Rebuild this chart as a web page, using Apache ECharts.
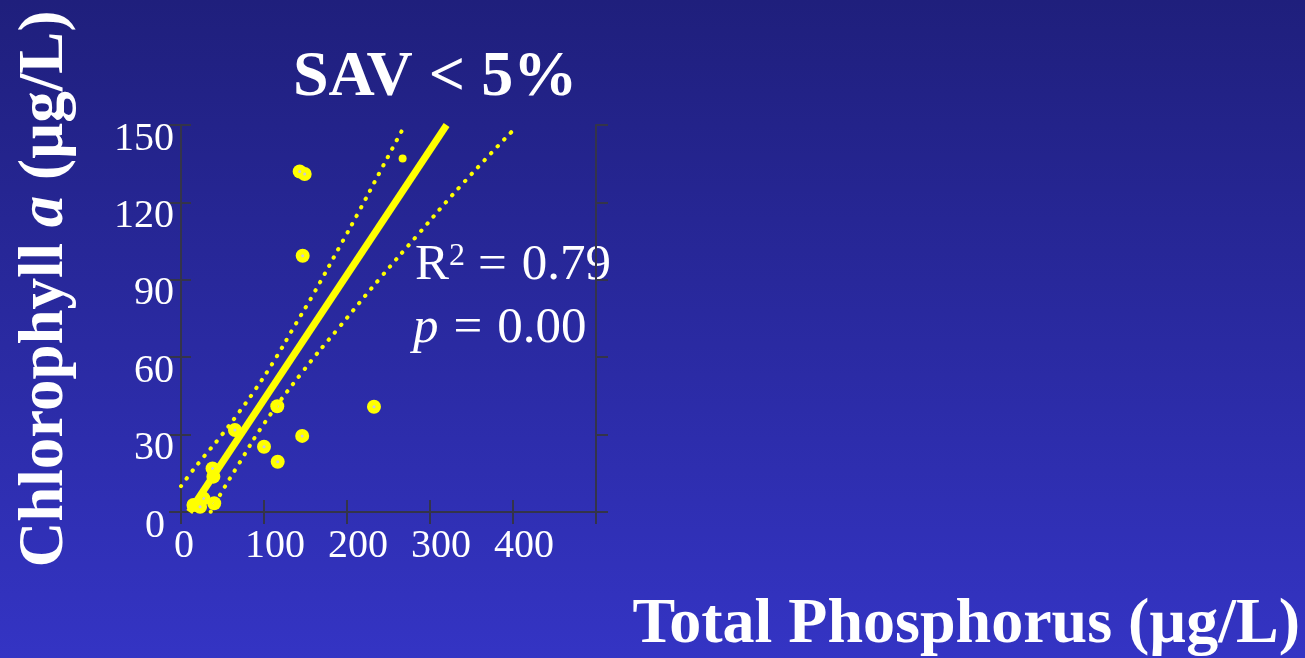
<!DOCTYPE html>
<html>
<head>
<meta charset="utf-8">
<script src="https://cdn.jsdelivr.net/npm/echarts@6/dist/echarts.min.js"></script>
<style>
html,body{margin:0;padding:0;}
#chart{width:1305px;height:658px;}
</style>
</head>
<body>
<div id="chart"></div>
<script>
// ---- data ----
var xTicks = [0, 100, 200, 300, 400];
var yTicks = [0, 30, 60, 90, 120, 150];
var points = [
  [15, 2.7], [23, 2], [27, 5.3], [40, 3.4], [38, 16.9], [39, 13.7],
  [65, 31.8], [100, 25.3], [116, 41], [116.5, 19.5], [146, 29.5],
  [232.5, 40.8], [146.6, 99.3], [143, 132], [149, 131]
];
var partialPoints = [[267, 137]];
var fitLine = [[10, 0], [320, 150]];
var upperBand = [
  [0, 10], [12.9, 15.6], [26.9, 21.2], [49, 29.8], [69, 38.3], [89.2, 47.3],
  [113.3, 59.2], [136.1, 71.7], [159.4, 84.4], [191.6, 103.1], [213.6, 116],
  [239.8, 131.9], [266.6, 148.1]
];
var lowerBand = [
  [35.8, 0.1], [47, 6.6], [70.2, 18.9], [100.4, 34.4], [147.3, 54.7],
  [189.5, 71.2], [239.8, 90.6], [284, 107], [336.1, 126.1], [398.4, 147.4]
];
var titleText = 'SAV < 5%';
var xName = 'Total Phosphorus (µg/L)';
var r2Text = '0.79';
var pText = '0.00';

var SERIF = '"Liberation Serif", "Times New Roman", serif';
var FRAME = '#34344a';
var YEL = '#ffff00';

var chart = echarts.init(document.getElementById('chart'));

var frameLine = {show: true, lineStyle: {color: FRAME, width: 2}};

var option = {
  backgroundColor: {
    type: 'linear', x: 0, y: 0, x2: 0, y2: 1,
    colorStops: [{offset: 0, color: '#1f1f7c'}, {offset: 1, color: '#3434c4'}]
  },
  animation: false,
  grid: {left: 181, top: 125, width: 415, height: 387},
  xAxis: [{
    type: 'value', position: 'bottom', min: 0, max: 500, interval: 100,
    axisLine: frameLine,
    axisTick: {show: true, inside: true, length: 12, lineStyle: {color: FRAME, width: 2}},
    splitLine: {show: false},
    axisLabel: {
      show: true, margin: 14, verticalAlign: 'top', showMaxLabel: false,
      formatter: function (v) {
        if (xTicks.indexOf(v) < 0) return '';
        return v === 0 ? '{z|0}' : '{n|' + v + '}';
      },
      rich: {
        n: {fontFamily: SERIF, fontSize: 40, color: '#ffffff', padding: [0, 0, 0, 22]},
        z: {fontFamily: SERIF, fontSize: 40, color: '#ffffff', padding: [0, 0, 0, 6]}
      }
    }
  }, {
    type: 'value', position: 'top', min: 0, max: 500, interval: 100,
    axisLine: frameLine,
    axisTick: {show: true, inside: true, length: 12, lineStyle: {color: FRAME, width: 2}},
    splitLine: {show: false}, axisLabel: {show: false}
  }],
  yAxis: [{
    type: 'value', position: 'left', min: 0, max: 150, interval: 30,
    axisLine: frameLine,
    axisTick: {show: true, inside: true, length: 10, lineStyle: {color: FRAME, width: 2}},
    splitLine: {show: false},
    axisLabel: {
      show: true, margin: 7,
      formatter: function (v) {
        if (yTicks.indexOf(v) < 0) return '';
        return v === 0 ? '{z|0}' : '{n|' + v + '}';
      },
      rich: {
        n: {fontFamily: SERIF, fontSize: 40, color: '#ffffff', padding: [28, 0, 0, 0]},
        z: {fontFamily: SERIF, fontSize: 40, color: '#ffffff', padding: [28, 9, 0, 0]}
      }
    }
  }, {
    type: 'value', position: 'right', min: 0, max: 150, interval: 30,
    axisLine: frameLine,
    axisTick: {show: true, inside: true, length: 12, lineStyle: {color: FRAME, width: 2}},
    splitLine: {show: false}, axisLabel: {show: false}
  }, {
    type: 'value', position: 'right', min: 0, max: 150, interval: 30,
    axisLine: frameLine,
    axisTick: {show: true, inside: false, length: 12, lineStyle: {color: FRAME, width: 2}},
    splitLine: {show: false}, axisLabel: {show: false}
  }],
  series: [{
    type: 'line', data: upperBand, smooth: true, showSymbol: false, silent: true,
    lineStyle: {color: YEL, width: 4, type: [0.5, 9], cap: 'round'}
  }, {
    type: 'line', data: lowerBand, smooth: true, showSymbol: false, silent: true,
    lineStyle: {color: YEL, width: 4, type: [0.5, 9], cap: 'round'}
  }, {
    type: 'line', data: fitLine, showSymbol: false, silent: true,
    lineStyle: {color: YEL, width: 7}
  }, {
    type: 'scatter', data: points, symbolSize: 14, silent: true,
    itemStyle: {color: YEL, opacity: 1}
  }, {
    type: 'scatter', data: partialPoints, symbolSize: 8, silent: true,
    itemStyle: {color: YEL, opacity: 1}
  }, {
    type: 'scatter', data: points, symbolSize: 3, silent: true,
    itemStyle: {color: '#c8c8dc', opacity: 1}
  }],
  graphic: [{
    type: 'text', x: 435, y: 78,
    style: {text: titleText, fill: '#ffffff', font: 'bold 64px ' + SERIF, align: 'center', verticalAlign: 'middle'}
  }, {
    type: 'text', x: 1300, y: 625,
    style: {text: xName, fill: '#ffffff', font: 'bold 64px ' + SERIF, align: 'right', verticalAlign: 'middle'}
  }, {
    type: 'text', x: 46, y: 289, rotation: Math.PI / 2,
    style: {
      text: '{b|Chlorophyll }{i|a}{b| (µg/L)}', align: 'center', verticalAlign: 'middle',
      rich: {
        b: {fontFamily: SERIF, fontWeight: 'bold', fontSize: 63, fill: '#ffffff', color: '#ffffff'},
        i: {fontFamily: SERIF, fontWeight: 'bold', fontStyle: 'italic', fontSize: 63, fill: '#ffffff', color: '#ffffff'}
      }
    }
  }, {
    type: 'text', x: 415, y: 266,
    style: {
      text: '{r|R}{s|2}{e|=}{r|' + r2Text + '}', align: 'left', verticalAlign: 'middle',
      rich: {
        r: {fontFamily: SERIF, fontSize: 51, lineHeight: 51, fill: '#ffffff', color: '#ffffff'},
        s: {fontFamily: SERIF, fontSize: 32, lineHeight: 51, verticalAlign: 'top', fill: '#ffffff', color: '#ffffff'},
        e: {fontFamily: SERIF, fontSize: 51, lineHeight: 51, fill: '#ffffff', color: '#ffffff', padding: [0, 15, 0, 13]}
      }
    }
  }, {
    type: 'text', x: 413, y: 329,
    style: {
      text: '{i|p}{e|=}{r|' + pText + '}', align: 'left', verticalAlign: 'middle',
      rich: {
        r: {fontFamily: SERIF, fontSize: 51, fill: '#ffffff', color: '#ffffff'},
        e: {fontFamily: SERIF, fontSize: 51, fill: '#ffffff', color: '#ffffff', padding: [0, 15, 0, 15]},
        i: {fontFamily: SERIF, fontStyle: 'italic', fontSize: 51, fill: '#ffffff', color: '#ffffff'}
      }
    }
  }]
};
chart.setOption(option);
</script>
</body>
</html>
